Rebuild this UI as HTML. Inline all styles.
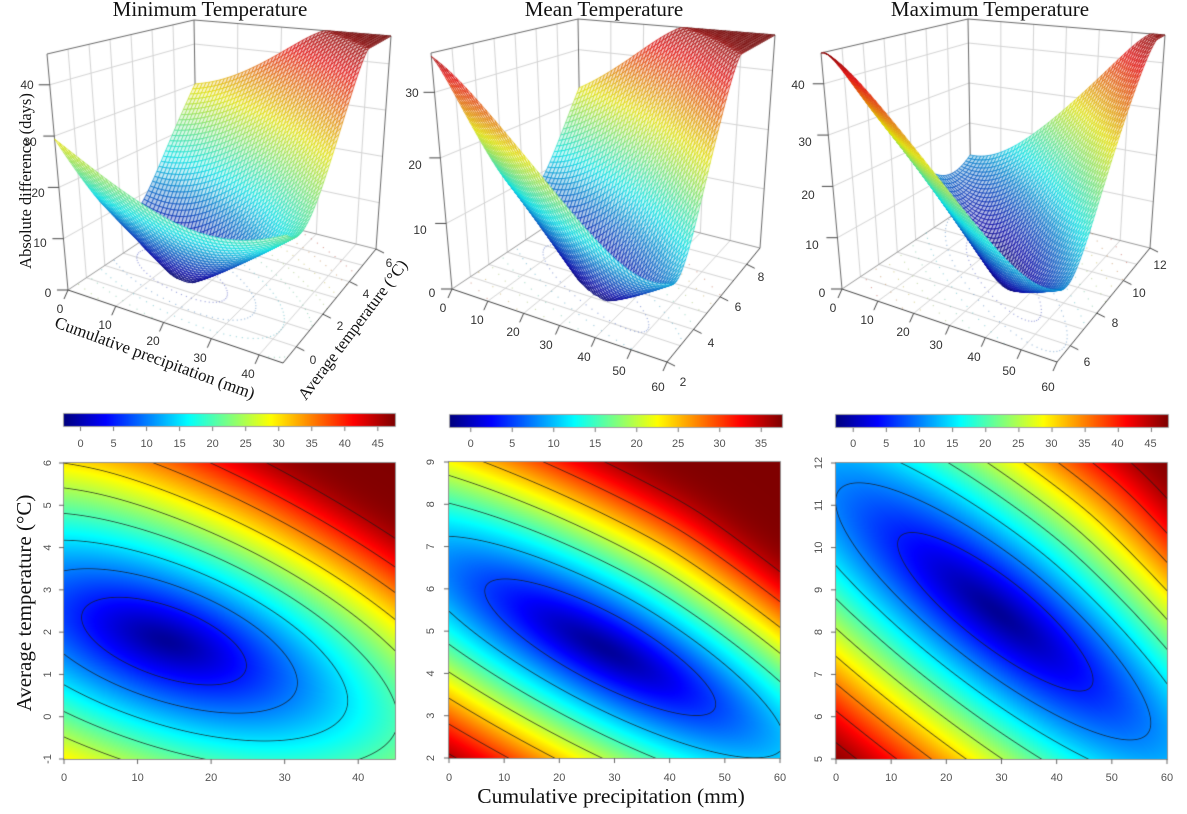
<!DOCTYPE html>
<html><head><meta charset="utf-8">
<style>
html,body{margin:0;padding:0;background:#fff;}
#wrap{position:relative;width:1187px;height:814px;overflow:hidden;background:#fff;}
canvas{position:absolute;left:0;top:0;}
svg{position:absolute;left:0;top:0;}
.t{font-family:"Liberation Serif",serif;fill:#111;}
.k{font-family:"Liberation Sans",sans-serif;fill:#333;font-size:12px;}
.h{font-family:"Liberation Sans",sans-serif;fill:#555;font-size:11px;}
</style></head><body>
<div id="wrap">
<canvas id="c" width="1187" height="814"></canvas>
<svg width="1187" height="814" viewBox="0 0 1187 814">
<g class="t" text-anchor="middle">
<text x="210" y="16" font-size="21">Minimum Temperature</text>
<text x="604" y="16" font-size="21">Mean Temperature</text>
<text x="990" y="16" font-size="21">Maximum Temperature</text>
<text transform="translate(31,181) rotate(-90)" font-size="16.5">Absolute difference (days)</text>
<text transform="translate(153,363) rotate(20)" font-size="17">Cumulative precipitation (mm)</text>
<text transform="translate(357,333) rotate(-53)" font-size="16.5">Average temperature (°C)</text>
<text transform="translate(31,603) rotate(-90)" font-size="21">Average temperature (°C)</text>
<text x="611" y="803" font-size="21.5">Cumulative precipitation (mm)</text>
</g>
<g class="k" text-anchor="middle">
<text x="60" y="313">0</text><text x="105" y="329">10</text><text x="153" y="345">20</text><text x="200" y="362">30</text><text x="248" y="378">40</text>
<text x="313" y="364">0</text><text x="340" y="330">2</text><text x="366" y="298">4</text><text x="389" y="267">6</text>
<text x="48" y="297">0</text><text x="40" y="247">10</text><text x="38" y="197">20</text><text x="30" y="146">30</text><text x="27" y="89">40</text>

<text x="443" y="312">0</text><text x="477" y="324">10</text><text x="513" y="336">20</text><text x="546" y="349">30</text><text x="584" y="361">40</text><text x="619" y="375">50</text><text x="658" y="391">60</text>
<text x="683" y="386">2</text><text x="711" y="347">4</text><text x="738" y="311">6</text><text x="761" y="281">8</text>
<text x="432" y="297">0</text><text x="420" y="234">10</text><text x="415" y="169">20</text><text x="412" y="97">30</text>

<text x="833" y="312">0</text><text x="867" y="324">10</text><text x="903" y="336">20</text><text x="936" y="349">30</text><text x="974" y="361">40</text><text x="1009" y="375">50</text><text x="1048" y="391">60</text>
<text x="1087" y="366">6</text><text x="1115" y="327">8</text><text x="1139" y="297">10</text><text x="1160" y="269">12</text>
<text x="822" y="297">0</text><text x="812" y="249">10</text><text x="808" y="199">20</text><text x="805" y="146">30</text><text x="798" y="89">40</text>
</g>
<g class="h" text-anchor="middle">
<text x="80.5" y="447">0</text><text x="113.5" y="447">5</text><text x="146.6" y="447">10</text><text x="179.6" y="447">15</text><text x="212.6" y="447">20</text><text x="245.7" y="447">25</text><text x="278.7" y="447">30</text><text x="311.7" y="447">35</text><text x="344.8" y="447">40</text><text x="377.8" y="447">45</text>
<text x="470.7" y="447">0</text><text x="512.2" y="447">5</text><text x="553.7" y="447">10</text><text x="595.1" y="447">15</text><text x="636.6" y="447">20</text><text x="678.1" y="447">25</text><text x="719.5" y="447">30</text><text x="761" y="447">35</text>
<text x="853.2" y="447">0</text><text x="886.2" y="447">5</text><text x="919.2" y="447">10</text><text x="952.3" y="447">15</text><text x="985.3" y="447">20</text><text x="1018.3" y="447">25</text><text x="1051.4" y="447">30</text><text x="1084.4" y="447">35</text><text x="1117.5" y="447">40</text><text x="1150.5" y="447">45</text>

<text x="64" y="781">0</text><text x="137.6" y="781">10</text><text x="211.1" y="781">20</text><text x="284.7" y="781">30</text><text x="358.2" y="781">40</text>
<text x="449" y="781">0</text><text x="504.2" y="781">10</text><text x="559.3" y="781">20</text><text x="614.5" y="781">30</text><text x="669.7" y="781">40</text><text x="724.8" y="781">50</text><text x="780" y="781">60</text>
<text x="836" y="781">0</text><text x="891.2" y="781">10</text><text x="946.3" y="781">20</text><text x="1001.5" y="781">30</text><text x="1056.7" y="781">40</text><text x="1111.8" y="781">50</text><text x="1167" y="781">60</text>

<text transform="translate(51,759) rotate(-90)">-1</text><text transform="translate(51,716.7) rotate(-90)">0</text><text transform="translate(51,674.4) rotate(-90)">1</text><text transform="translate(51,632.1) rotate(-90)">2</text><text transform="translate(51,589.9) rotate(-90)">3</text><text transform="translate(51,547.6) rotate(-90)">4</text><text transform="translate(51,505.3) rotate(-90)">5</text><text transform="translate(51,463) rotate(-90)">6</text>

<text transform="translate(434,758) rotate(-90)">2</text><text transform="translate(434,715.7) rotate(-90)">3</text><text transform="translate(434,673.4) rotate(-90)">4</text><text transform="translate(434,631.1) rotate(-90)">5</text><text transform="translate(434,588.9) rotate(-90)">6</text><text transform="translate(434,546.6) rotate(-90)">7</text><text transform="translate(434,504.3) rotate(-90)">8</text><text transform="translate(434,462) rotate(-90)">9</text>

<text transform="translate(822,759) rotate(-90)">5</text><text transform="translate(822,716.7) rotate(-90)">6</text><text transform="translate(822,674.4) rotate(-90)">7</text><text transform="translate(822,632.1) rotate(-90)">8</text><text transform="translate(822,589.9) rotate(-90)">9</text><text transform="translate(822,547.6) rotate(-90)">10</text><text transform="translate(822,505.3) rotate(-90)">11</text><text transform="translate(822,463) rotate(-90)">12</text>
</g>
</svg>
</div>
<script>
(function(){
var cv=document.getElementById('c');
var ctx=cv.getContext('2d');
var STOPS=[[0,0,127],[0,0,255],[0,127,255],[0,255,255],[127,255,127],[255,255,0],[255,127,0],[255,0,0],[127,0,0]];
function jet(v){
  if(v<0)v=0;if(v>1)v=1;
  v=v*8;var i=Math.floor(v);if(i>=8)i=7;
  var f=v-i,a=STOPS[i],b=STOPS[i+1];
  return [a[0]+(b[0]-a[0])*f,a[1]+(b[1]-a[1])*f,a[2]+(b[2]-a[2])*f];
}
function rgb(c,a){return a===undefined?'rgb('+(c[0]|0)+','+(c[1]|0)+','+(c[2]|0)+')':'rgba('+(c[0]|0)+','+(c[1]|0)+','+(c[2]|0)+','+a+')';}

var PS=[
 {cx:.31,ct:.40,m:-0.4,ka:30,kp:67,cq:15,ca:0.4,fmax:47.5,cb:[-2.5,47.6],zbox:46,xr:[0,45],yr:[-1,6],
  hm:[64,463,395,759],cbr:[64,414,395,426],o:[68,290],
  xg:[10,20,30,40],xt:[0,10,20,30,40],yg:[0,1,2,3,4,5],yt:[0,2,4,6],zt:[10,20,30,40],
  hx:[0,10,20,30,40],hy:[-1,0,1,2,3,4,5,6],cbt:[0,5,10,15,20,25,30,35,40,45]},
 {cx:.467,ct:.371,m:-0.6,ka:20,kp:72,cq:20,ca:0,fmax:37.5,cb:[-2.5,37.5],zbox:36,xr:[0,60],yr:[2,9],
  hm:[449,462,780,758],cbr:[450,415,782,427],o:[452,289],
  xg:[10,20,30,40,50],xt:[0,10,20,30,40,50,60],yg:[3,4,5,6,7,8],yt:[2,4,6,8],zt:[10,20,30],
  hx:[0,10,20,30,40,50,60],hy:[2,3,4,5,6,7,8,9],cbt:[0,5,10,15,20,25,30,35]},
 {cx:.49,ct:.493,m:-0.88,ka:21,kp:76,cq:20,ca:0,fmax:47.5,cb:[-2.6,47.5],zbox:46,xr:[0,60],yr:[5,12],
  hm:[836,463,1167,759],cbr:[836,415,1168,427],o:[842,289],
  xg:[10,20,30,40,50],xt:[0,10,20,30,40,50,60],yg:[6,7,8,9,10,11],yt:[6,8,10,12],zt:[10,20,30,40],
  hx:[0,10,20,30,40,50,60],hy:[5,6,7,8,9,10,11,12],cbt:[0,5,10,15,20,25,30,35,40,45]}
];

function rp(x){return 0.5*(x+Math.sqrt(x*x+0.01));}
function F(P,s,t){
  var n=Math.sqrt(1+P.m*P.m),ex=1/n,ey=P.m/n;
  var dx=s-P.cx,dy=t-P.ct;
  var a=dx*ex+dy*ey,p=-dx*ey+dy*ex;
  var q=(P.ka*a)*(P.ka*a)+(P.kp*p)*(P.kp*p);
  var f=-1.5+Math.sqrt(q+4)-2;
  f+=P.cq*rp(p)*rp(a+P.ca);
  var k=2.5;
  return -k*Math.log(Math.exp(-f/k)+Math.exp(-P.fmax/k));
}

var BX=[[0,0],[215,73],[308,-41],[129,-86],[-21,-236],[222,-197],[323,-254],[126,-270]];
function proj(s,t,w){
  var wa=(1-s)*(1-t),wb=s*(1-t),wc=s*t,wd=(1-s)*t;
  var x0=wa*BX[0][0]+wb*BX[1][0]+wc*BX[2][0]+wd*BX[3][0];
  var y0=wa*BX[0][1]+wb*BX[1][1]+wc*BX[2][1]+wd*BX[3][1];
  var x1=wa*BX[4][0]+wb*BX[5][0]+wc*BX[6][0]+wd*BX[7][0];
  var y1=wa*BX[4][1]+wb*BX[5][1]+wc*BX[6][1]+wd*BX[7][1];
  return [x0+(x1-x0)*w,y0+(y1-y0)*w];
}
function PP(P,s,t,w){var r=proj(s,t,w);return [P.o[0]+r[0],P.o[1]+r[1]];}
function L2(p,q,col,lw){ctx.strokeStyle=col;ctx.lineWidth=lw;ctx.beginPath();ctx.moveTo(p[0],p[1]);ctx.lineTo(q[0],q[1]);ctx.stroke();}

function draw3d(P){
  var xs=function(x){return (x-P.xr[0])/(P.xr[1]-P.xr[0]);};
  var ys=function(y){return (y-P.yr[0])/(P.yr[1]-P.yr[0]);};
  var gc='#d4d4d4',i,j,s,t,w;
  for(i=0;i<P.yg.length;i++){t=ys(P.yg[i]);L2(PP(P,0,t,0),PP(P,0,t,1),gc,1);L2(PP(P,0,t,0),PP(P,1,t,0),gc,1);}
  for(i=0;i<P.xg.length;i++){s=xs(P.xg[i]);L2(PP(P,s,1,0),PP(P,s,1,1),gc,1);L2(PP(P,s,0,0),PP(P,s,1,0),gc,1);}
  for(i=0;i<P.zt.length;i++){w=P.zt[i]/P.zbox;L2(PP(P,0,0,w),PP(P,0,1,w),gc,1);L2(PP(P,0,1,w),PP(P,1,1,w),gc,1);}
  var bc='#6a6a6a';
  L2(PP(P,0,0,0),PP(P,0,0,1),bc,1);
  L2(PP(P,0,1,0),PP(P,0,1,1),bc,1);
  L2(PP(P,1,1,0),PP(P,1,1,1),bc,1);
  L2(PP(P,0,0,1),PP(P,0,1,1),bc,1);
  L2(PP(P,0,1,1),PP(P,1,1,1),bc,1);
  L2(PP(P,0,0,0),PP(P,0,1,0),'#999',1);
  L2(PP(P,0,1,0),PP(P,1,1,0),'#999',1);
  var n=Math.sqrt(1+P.m*P.m),ex=1/n,ey=P.m/n,lo=P.cb[0],rng=P.cb[1]-P.cb[0];
  for(var L=5;L<=P.fmax-5;L+=5){
    var R=Math.sqrt((L+3.5)*(L+3.5)-4);
    var c=jet((L-lo)/rng);
    ctx.fillStyle=rgb([c[0]*0.5+60,c[1]*0.5+60,c[2]*0.5+60],0.5);
    var steps=Math.round(30+R*3.5);
    for(var k=0;k<steps;k++){
      var th=k/steps*Math.PI*2;
      var a=R*Math.cos(th)/P.ka,p=R*Math.sin(th)/P.kp;
      s=P.cx+a*ex-p*ey;t=P.ct+a*ey+p*ex;
      if(s<0||s>1||t<0||t>1)continue;
      var pt=PP(P,s,t,0);ctx.fillRect(pt[0]-0.5,pt[1]-0.5,1.1,1.1);
    }
  }
  var N=52,M=58,pts=[],vals=[];
  for(i=0;i<=N;i++)for(j=0;j<=M;j++){
    s=i/N;t=j/M;var fv=F(P,s,t);
    w=Math.max(0,Math.min(1,fv/P.zbox));
    pts.push(PP(P,s,t,w));vals.push(fv);
  }
  var cells=[];
  for(i=0;i<N;i++)for(j=0;j<M;j++)cells.push([i,j,(i+0.5)/N-1.3*(j+0.5)/M]);
  cells.sort(function(A,B){return A[2]-B[2];});
  ctx.lineWidth=0.7;ctx.lineJoin='round';
  for(var q=0;q<cells.length;q++){
    i=cells[q][0];j=cells[q][1];
    var k00=i*(M+1)+j,k10=(i+1)*(M+1)+j,k11=(i+1)*(M+1)+j+1,k01=i*(M+1)+j+1;
    var fa=(vals[k00]+vals[k10]+vals[k11]+vals[k01])/4;
    var v=(fa-lo)/rng;
    var cc=jet(v);
    var kf=v<0.35?0.5+(v/0.35)*0.38:0.88;
    var mix=v<0.3?0.3:0.22;
    ctx.beginPath();
    ctx.moveTo(pts[k00][0],pts[k00][1]);ctx.lineTo(pts[k10][0],pts[k10][1]);
    ctx.lineTo(pts[k11][0],pts[k11][1]);ctx.lineTo(pts[k01][0],pts[k01][1]);ctx.closePath();
    var fc=[255-(255-cc[0]*kf)*mix,255-(255-cc[1]*kf)*mix,255-(255-cc[2]*kf)*mix];
    ctx.fillStyle=rgb(fc);ctx.fill();
    ctx.strokeStyle=rgb([cc[0]*kf,cc[1]*kf,cc[2]*kf]);ctx.stroke();
  }
  var ac='#444';
  L2(PP(P,0,0,0),PP(P,1,0,0),ac,1);
  L2(PP(P,1,0,0),PP(P,1,1,0),ac,1);
  for(i=0;i<P.xt.length;i++){var aa=PP(P,xs(P.xt[i]),0,0);L2(aa,[aa[0]-4,aa[1]+9],ac,1);}
  for(i=0;i<P.yt.length;i++){var b=PP(P,1,ys(P.yt[i]),0);L2(b,[b[0]+8,b[1]+4],ac,1);}
  var zl=[0].concat(P.zt);
  for(i=0;i<zl.length;i++){var z=PP(P,0,0,zl[i]/P.zbox);L2([z[0]-11,z[1]],z,ac,1);}
}

function heat(P){
  var x0=P.hm[0],y0=P.hm[1],w=P.hm[2]-P.hm[0],h=P.hm[3]-P.hm[1];
  var img=ctx.createImageData(w,h),d=img.data;
  var lo=P.cb[0],rng=P.cb[1]-P.cb[0],W2=w+2;
  var G=new Float32Array((w+2)*(h+2));
  var i,j;
  for(j=-1;j<=h;j++)for(i=-1;i<=w;i++)G[(j+1)*W2+(i+1)]=F(P,(i+0.5)/w,1-(j+0.5)/h);
  for(j=0;j<h;j++)for(i=0;i<w;i++){
    var k=(j+1)*W2+(i+1),f=G[k];
    var gx=(G[k+1]-G[k-1])/2,gy=(G[k+W2]-G[k-W2])/2;
    var g=Math.sqrt(gx*gx+gy*gy)+1e-6;
    var c=jet((f-lo)/rng);
    var L=Math.round(f/5)*5,al=0;
    if(L>=5&&L<=P.fmax-2&&g>0.03){var dd=Math.abs(f-L)/g;al=Math.max(0,1-dd/0.85)*0.75;}
    var o=(j*w+i)*4;
    d[o]=c[0]*(1-al)+25*al;d[o+1]=c[1]*(1-al)+25*al;d[o+2]=c[2]*(1-al)+25*al;d[o+3]=255;
  }
  ctx.putImageData(img,x0,y0);
  ctx.strokeStyle='#777';ctx.lineWidth=0.8;ctx.strokeRect(x0-0.5,y0-0.5,w+1,h+1);
  var xw=P.hm[2]-P.hm[0],yh=P.hm[3]-P.hm[1];
  for(i=0;i<P.hx.length;i++){var xx=x0+(P.hx[i]-P.xr[0])/(P.xr[1]-P.xr[0])*xw;L2([xx,P.hm[3]],[xx,P.hm[3]+5],'#666',1);}
  for(i=0;i<P.hy.length;i++){var yy=P.hm[3]-(P.hy[i]-P.yr[0])/(P.yr[1]-P.yr[0])*yh;L2([x0-5,yy],[x0,yy],'#666',1);}
  var cx0=P.cbr[0],cy0=P.cbr[1],cw=P.cbr[2]-P.cbr[0],ch=P.cbr[3]-P.cbr[1];
  for(i=0;i<cw;i++){ctx.fillStyle=rgb(jet((i+0.5)/cw));ctx.fillRect(cx0+i,cy0,1,ch);}
  ctx.strokeStyle='#888';ctx.lineWidth=0.8;ctx.strokeRect(cx0-0.5,cy0-0.5,cw+1,ch+1);
  for(i=0;i<P.cbt.length;i++){var tx=cx0+(P.cbt[i]-P.cb[0])/(P.cb[1]-P.cb[0])*cw;L2([tx,cy0+ch+1],[tx,cy0+ch+5],'#777',1);}
}

ctx.fillStyle='#fff';ctx.fillRect(0,0,1187,814);
for(var n=0;n<3;n++){draw3d(PS[n]);}
for(var m=0;m<3;m++){heat(PS[m]);}
})();
</script>
</body></html>
